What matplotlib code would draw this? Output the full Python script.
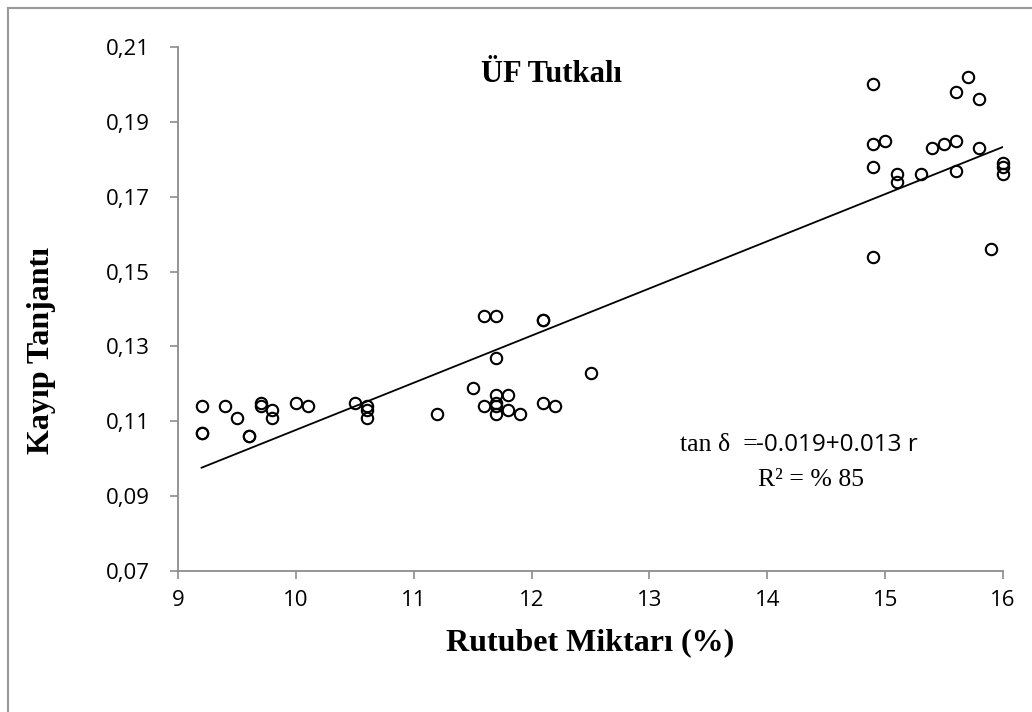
import matplotlib
matplotlib.use("Agg")
import matplotlib.pyplot as plt
from matplotlib.patches import Rectangle
from matplotlib.ticker import FuncFormatter

# moisture content (%) and loss tangent
moisture = [9.2, 9.2, 9.2, 9.4, 9.5, 9.6, 9.6, 9.7, 9.7, 9.8, 9.8, 10.0, 10.1,
            10.5, 10.6, 10.6, 10.6, 11.2, 11.5, 11.6, 11.6, 11.7, 11.7, 11.7,
            11.7, 11.7, 11.7, 11.8, 11.8, 11.9, 12.1, 12.1, 12.1, 12.2, 12.5,
            14.9, 14.9, 14.9, 14.9, 15.0, 15.1, 15.1, 15.3, 15.4, 15.5, 15.6,
            15.6, 15.6, 15.7, 15.8, 15.8, 15.9, 16.0, 16.0, 16.0]
loss_tan = [0.114, 0.107, 0.107, 0.114, 0.111, 0.106, 0.106, 0.115, 0.114,
            0.113, 0.111, 0.115, 0.114, 0.115, 0.114, 0.113, 0.111, 0.112,
            0.119, 0.138, 0.114, 0.138, 0.127, 0.117, 0.115, 0.114, 0.112,
            0.117, 0.113, 0.112, 0.137, 0.137, 0.115, 0.114, 0.123,
            0.200, 0.184, 0.178, 0.154, 0.185, 0.176, 0.174, 0.176, 0.183,
            0.184, 0.198, 0.185, 0.177, 0.202, 0.196, 0.183, 0.156, 0.179,
            0.178, 0.176]

# trend line end points as drawn
fit_x = [9.2, 16.0]
fit_y = [0.0976, 0.1833]

x_ticks = [9, 10, 11, 12, 13, 14, 15, 16]
y_ticks = [0.07, 0.09, 0.11, 0.13, 0.15, 0.17, 0.19, 0.21]

AXIS_GRAY = "#8c8c8c"
SERIF = "Liberation Serif"
SANS = "Open Sans"

fig = plt.figure(figsize=(10.32, 7.12), dpi=100)
# outer chart frame (only left and top edges fall inside the image)
fig.patches.append(Rectangle((8 / 1032, -0.5), 2, 1.5 - 8 / 712,
                             transform=fig.transFigure, fill=False,
                             edgecolor="#9a9a9a", linewidth=1.5))
ax = fig.add_axes([178 / 1032, (712 - 571) / 712, 825 / 1032, 524 / 712])

ax.plot(fit_x, fit_y, color="black", lw=1.3, zorder=2)
ax.plot(moisture, loss_tan, "o", ms=8.2, mfc="none", mec="black", mew=1.5,
        zorder=3, clip_on=False)

ax.set_xlim(9, 16)
ax.set_ylim(0.07, 0.21)
ax.set_xticks(x_ticks)
ax.set_yticks(y_ticks)
ax.yaxis.set_major_formatter(FuncFormatter(lambda v, p: f"{v:.2f}".replace(".", ",")))
for s in ("top", "right"):
    ax.spines[s].set_visible(False)
for s in ("left", "bottom"):
    ax.spines[s].set_color(AXIS_GRAY)
    ax.spines[s].set_linewidth(1.3)
ax.tick_params(direction="out", length=6, width=1.2, color=AXIS_GRAY,
               labelsize=16)
ax.tick_params(axis="y", pad=14)
ax.tick_params(axis="x", pad=8)
for lab in ax.get_xticklabels() + ax.get_yticklabels():
    lab.set_fontfamily(SANS)

ax.set_xlabel("Rutubet Miktarı (%)", fontfamily=SERIF, fontweight="bold",
              fontsize=23, labelpad=12)
ax.set_ylabel("Kayıp Tanjantı", fontfamily=SERIF, fontweight="bold",
              fontsize=23)
ax.yaxis.set_label_coords(-0.148, 0.42)

ax.text(12.17, 0.2026, "ÜF Tutkalı", ha="center", va="center",
        fontfamily=SERIF, fontweight="bold", fontsize=22)

ax.text(13.26, 0.1036, "tan δ  =", ha="left", va="center",
        fontfamily=SERIF, fontsize=18.5)
ax.text(13.905, 0.1036, "-0.019+0.013 r", ha="left", va="center",
        fontfamily=SANS, fontsize=17.5)
ax.text(14.37, 0.0943, "R² = % 85", ha="center", va="center",
        fontfamily=SERIF, fontsize=18.5)

fig.savefig("out.png", dpi=100, facecolor="white")
